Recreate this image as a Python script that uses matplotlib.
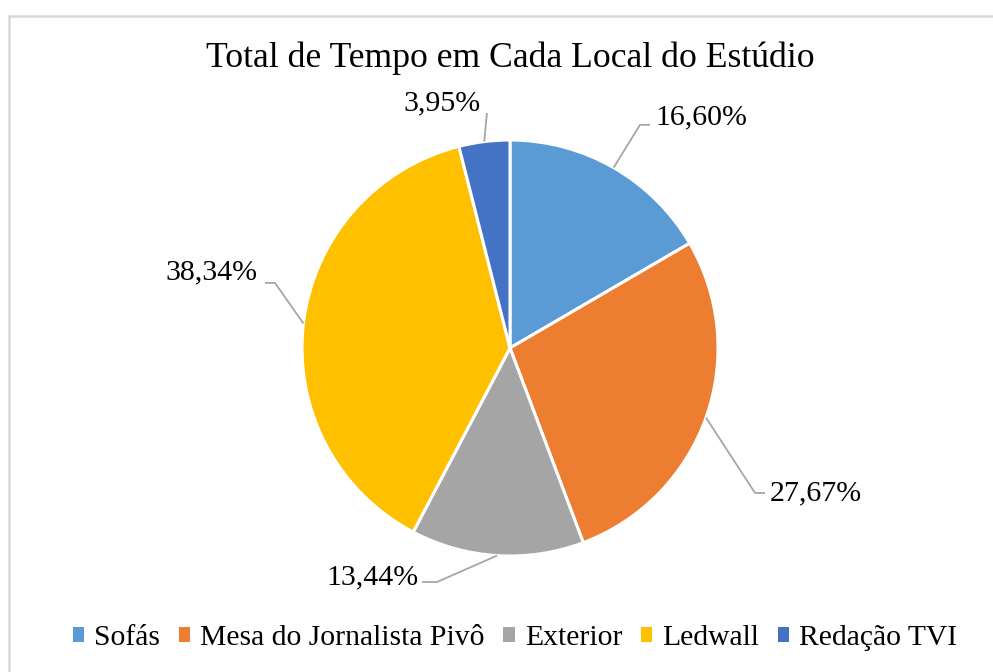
import matplotlib
matplotlib.use("Agg")
import matplotlib.pyplot as plt
from matplotlib.patches import Rectangle, Patch
import numpy as np

categories = ["Sofás", "Mesa do Jornalista Pivô", "Exterior", "Ledwall", "Redação TVI"]
values = [16.60, 27.67, 13.44, 38.34, 3.95]
labels = ["16,60%", "27,67%", "13,44%", "38,34%", "3,95%"]
colors = ["#5B9BD5", "#ED7D31", "#A5A5A5", "#FFC000", "#4472C4"]

# label placement (radius units): text anchor, elbow point, end point, alignment
label_pos = [
    ((0.697, 1.110), [(0.625, 1.073), (0.673, 1.073)], "left"),
    ((1.250, -0.697), [(1.178, -0.697), (1.226, -0.697)], "left"),
    ((-0.442, -1.101), [(-0.351, -1.125), (-0.423, -1.125)], "right"),
    ((-1.212, 0.365), [(-1.130, 0.313), (-1.178, 0.313)], "right"),
    ((-0.327, 1.178), [(-0.111, 1.130)], "center"),
]

plt.rcParams['font.family'] = ['Liberation Serif', 'DejaVu Serif']

W, H = 993, 672
fig = plt.figure(figsize=(W / 100, H / 100), dpi=100)
fig.patch.set_facecolor("white")

cx, cy, R = 510, 348, 208
ax = fig.add_axes([0, 0, 1, 1])
ax.axis("off")

wedges, _ = ax.pie(values, colors=colors, startangle=90, counterclock=False,
                   radius=1, center=(0, 0), frame=False,
                   wedgeprops=dict(edgecolor="white", linewidth=2.2))
ax.set_xlim(-cx / R, (W - cx) / R)
ax.set_ylim((cy - H) / R, cy / R)
ax.set_aspect("auto")

for w, lab, (tpos, pts, ha) in zip(wedges, labels, label_pos):
    ang = np.deg2rad((w.theta1 + w.theta2) / 2)
    start = (np.cos(ang), np.sin(ang))
    xs = [start[0]] + [p[0] for p in pts]
    ys = [start[1]] + [p[1] for p in pts]
    ax.plot(xs, ys, color="#A6A6A6", lw=1.3, solid_capstyle="butt")
    ax.text(tpos[0], tpos[1], lab, ha=ha, va="center", fontsize=21.5, color="#000000")

fig.text(510 / W, 1 - 58 / H, "Total de Tempo em Cada Local do Estúdio",
         ha="center", va="center", fontsize=25.7, color="#000000")

handles = [Patch(facecolor=c, edgecolor="none") for c in colors]
fig.legend(handles, categories, loc="center", bbox_to_anchor=(515 / W, 1 - 638 / H),
           ncol=5, frameon=False, fontsize=21.3, handlelength=0.38, handleheight=0.38,
           handletextpad=0.35, columnspacing=0.62)

fig.patches.append(Rectangle((8.5 / W, -0.1), 1.2, 1 - 15.5 / H + 0.1,
                             transform=fig.transFigure, fill=False,
                             edgecolor="#D9D9D9", linewidth=1.8))

fig.savefig("out.png", dpi=100)
